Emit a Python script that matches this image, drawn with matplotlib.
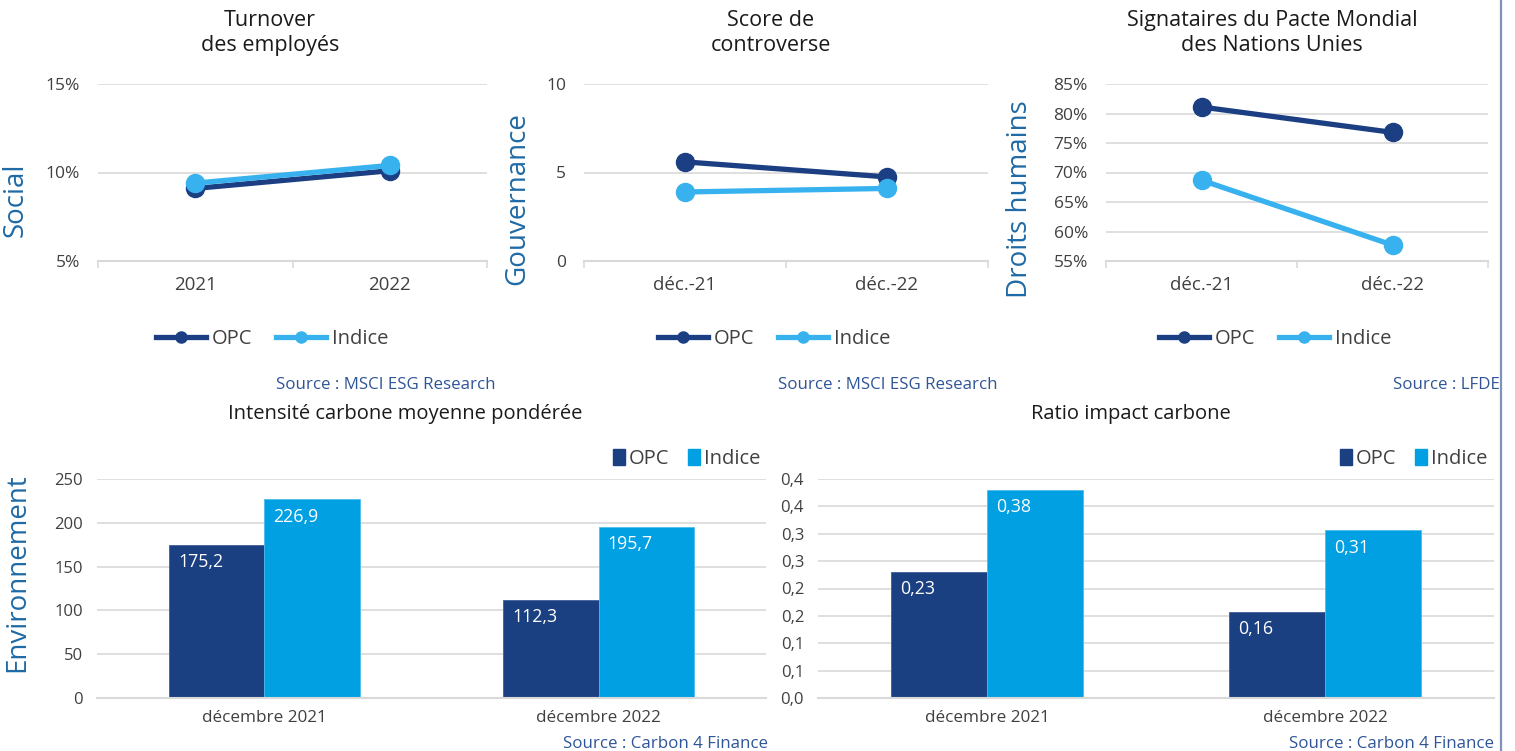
import matplotlib
matplotlib.use("Agg")
import matplotlib.pyplot as plt
from matplotlib.lines import Line2D
from matplotlib.patches import Patch
from matplotlib.ticker import FixedLocator, FuncFormatter

plt.rcParams['font.family'] = ['Open Sans', 'DejaVu Sans']

# ---------------- data ----------------
turnover_cats = ["2021", "2022"]
turnover_opc = [9.1, 10.1]
turnover_indice = [9.4, 10.4]

controverse_cats = ["déc.-21", "déc.-22"]
controverse_opc = [5.6, 4.75]
controverse_indice = [3.9, 4.1]

pacte_cats = ["déc.-21", "déc.-22"]
pacte_opc = [81.1, 76.8]
pacte_indice = [68.7, 57.7]

carbon_cats = ["décembre 2021", "décembre 2022"]
intensite_opc = [175.2, 112.3]
intensite_indice = [226.9, 195.7]
intensite_opc_labels = ["175,2", "112,3"]
intensite_indice_labels = ["226,9", "195,7"]

ratio_opc = [0.23, 0.157]
ratio_indice = [0.38, 0.306]
ratio_opc_labels = ["0,23", "0,16"]
ratio_indice_labels = ["0,38", "0,31"]

series_names = ["OPC", "Indice"]

# ---------------- style ----------------
W, H = 1515, 751
C_OPC_LINE = "#1B3F82"
C_IDX_LINE = "#38B2EE"
C_OPC_BAR = "#1B4082"
C_IDX_BAR = "#00A0E2"
C_AXLBL = "#1F6AA5"
C_SRC = "#2F5597"
C_TICK = "#404040"
C_GRID = "#D9D9D9"

fig = plt.figure(figsize=(W / 100, H / 100), dpi=100)
fig.patch.set_facecolor("white")


def fx(x):
    return x / W


def fy(y):
    return 1 - y / H


def add_ax(x0, x1, ytop, ybot):
    return fig.add_axes([fx(x0), fy(ybot), fx(x1) - fx(x0), (ybot - ytop) / H])


def style_line_ax(ax, cats, yticks, fmt, ylim):
    ax.set_xlim(-0.5, len(cats) - 0.5)
    ax.set_ylim(*ylim)
    for s in ["top", "right", "left"]:
        ax.spines[s].set_visible(False)
    ax.spines["bottom"].set_color(C_GRID)
    ax.spines["bottom"].set_linewidth(1.5)
    ax.spines["bottom"].set_zorder(0.5)
    ax.set_yticks(yticks)
    ax.yaxis.set_major_formatter(FuncFormatter(fmt))
    ax.tick_params(axis="y", length=0, pad=13, labelsize=12.5, labelcolor=C_TICK)
    ax.set_xticks(range(len(cats)))
    ax.set_xticklabels(cats)
    ax.tick_params(axis="x", which="major", length=0, pad=11, labelsize=13.5, labelcolor=C_TICK)
    ax.xaxis.set_minor_locator(FixedLocator([i - 0.5 for i in range(len(cats) + 1)]))
    ax.tick_params(axis="x", which="minor", length=5, width=1.2, color=C_GRID)
    ax.grid(axis="y", color=C_GRID, linewidth=1.2, zorder=0)
    ax.set_axisbelow(True)


def line_chart(x0, x1, cats, opc, idx, yticks, fmt, ylim):
    ax = add_ax(x0, x1, 84, 261)
    style_line_ax(ax, cats, yticks, fmt, ylim)
    xs = list(range(len(cats)))
    ax.plot(xs, opc, color=C_OPC_LINE, lw=3.8, marker="o", ms=13, zorder=3, solid_capstyle="round")
    ax.plot(xs, idx, color=C_IDX_LINE, lw=3.8, marker="o", ms=13, zorder=4, solid_capstyle="round")
    return ax


def line_legend(cx):
    handles = [Line2D([], [], color=C_OPC_LINE, lw=3.8, marker="o", ms=8),
               Line2D([], [], color=C_IDX_LINE, lw=3.8, marker="o", ms=8)]
    fig.legend(handles, series_names, loc="center", bbox_to_anchor=(fx(cx), fy(339)),
               ncol=2, frameon=False, fontsize=14.5, handlelength=2.5, handletextpad=0.25,
               columnspacing=1.2, labelcolor=C_TICK)


pct = lambda v, p: f"{v:.0f}%"
num = lambda v, p: f"{v:.0f}"

line_chart(98, 487, turnover_cats, turnover_opc, turnover_indice, [5, 10, 15], pct, (5, 15))
line_chart(584, 988, controverse_cats, controverse_opc, controverse_indice, [0, 5, 10], num, (0, 10))
line_chart(1106, 1488, pacte_cats, pacte_opc, pacte_indice, [55, 60, 65, 70, 75, 80, 85], pct, (55, 85))

line_legend(272)
line_legend(774)
line_legend(1275)

# titles top
TS = 15.5
fig.text(fx(270), fy(33), "Turnover\ndes employés", ha="center", va="center", fontsize=TS,
         color="#1a1a1a", linespacing=1.2)
fig.text(fx(771), fy(33), "Score de\ncontroverse", ha="center", va="center", fontsize=TS,
         color="#1a1a1a", linespacing=1.2)
fig.text(fx(1272), fy(33), "Signataires du Pacte Mondial\ndes Nations Unies", ha="center", va="center",
         fontsize=TS, color="#1a1a1a", linespacing=1.2)

# side labels
AS = 20
fig.text(fx(16), fy(200), "Social", rotation=90, ha="center", va="center", fontsize=AS, color=C_AXLBL)
fig.text(fx(517), fy(199), "Gouvernance", rotation=90, ha="center", va="center", fontsize=AS, color=C_AXLBL)
fig.text(fx(1020), fy(199), "Droits humains", rotation=90, ha="center", va="center", fontsize=AS, color=C_AXLBL)
fig.text(fx(17), fy(573), "Environnement", rotation=90, ha="center", va="center", fontsize=AS, color=C_AXLBL)

# sources
SS = 12.2
fig.text(fx(495), fy(385), "Source : MSCI ESG Research", ha="right", va="center", fontsize=SS, color=C_SRC)
fig.text(fx(997), fy(385), "Source : MSCI ESG Research", ha="right", va="center", fontsize=SS, color=C_SRC)
fig.text(fx(1500), fy(385), "Source : LFDE", ha="right", va="center", fontsize=SS, color=C_SRC)
fig.text(fx(768), fy(744), "Source : Carbon 4 Finance", ha="right", va="center", fontsize=SS, color=C_SRC)
fig.text(fx(1494), fy(744), "Source : Carbon 4 Finance", ha="right", va="center", fontsize=SS, color=C_SRC)


# ---------------- bar charts ----------------
def bar_chart(x0, x1, opc, idx, opc_lbl, idx_lbl, yticks, ylim, ytlabels, title, title_cx, leg_right):
    ax = add_ax(x0, x1, 479, 698)
    ax.set_xlim(-0.5, len(carbon_cats) - 0.5)
    ax.set_ylim(*ylim)
    for s in ["top", "right", "left"]:
        ax.spines[s].set_visible(False)
    ax.spines["bottom"].set_color(C_GRID)
    ax.spines["bottom"].set_linewidth(1.5)
    ax.set_yticks(yticks)
    ax.set_yticklabels(ytlabels)
    ax.tick_params(axis="y", length=0, pad=10, labelsize=12, labelcolor=C_TICK)
    ax.set_xticks(range(len(carbon_cats)))
    ax.set_xticklabels(carbon_cats)
    ax.tick_params(axis="x", length=0, pad=9, labelsize=12.3, labelcolor=C_TICK)
    ax.grid(axis="y", color=C_GRID, linewidth=1.2)
    ax.set_axisbelow(True)
    bw = 0.285
    xs = list(range(len(carbon_cats)))
    b1 = ax.bar([x - bw / 2 for x in xs], opc, width=bw, color=C_OPC_BAR, edgecolor="#3F5E9A", linewidth=0.6, zorder=2)
    b2 = ax.bar([x + bw / 2 for x in xs], idx, width=bw, color=C_IDX_BAR, edgecolor="#4DBBEB", linewidth=0.6, zorder=2)
    for bars, labels in ((b1, opc_lbl), (b2, idx_lbl)):
        for r, lab in zip(bars, labels):
            ax.annotate(lab, (r.get_x(), r.get_height()), xytext=(6.5, -12.5), textcoords="offset points",
                        ha="left", va="center", color="white", fontsize=12.8, zorder=3)
    fig.text(fx(title_cx), fy(414), title, ha="center", va="center", fontsize=14.5, color="#1a1a1a")
    handles = [Patch(color=C_OPC_BAR), Patch(color=C_IDX_BAR)]
    fig.legend(handles, series_names, loc="center right", bbox_to_anchor=(fx(leg_right), fy(459)),
               ncol=2, frameon=False, fontsize=14.5, handlelength=0.6, handleheight=0.8,
               handletextpad=0.2, columnspacing=0.9, labelcolor=C_TICK, borderaxespad=0, borderpad=0)
    return ax


bar_chart(97, 766, intensite_opc, intensite_indice, intensite_opc_labels, intensite_indice_labels,
          [0, 50, 100, 150, 200, 250], (0, 250), ["0", "50", "100", "150", "200", "250"],
          "Intensité carbone moyenne pondérée", 405, 760)

ratio_ticks = [0.0, 0.05, 0.1, 0.15, 0.2, 0.25, 0.3, 0.35, 0.4]
ratio_tick_labels = ["0,0", "0,1", "0,1", "0,2", "0,2", "0,3", "0,3", "0,4", "0,4"]
bar_chart(818, 1494, ratio_opc, ratio_indice, ratio_opc_labels, ratio_indice_labels,
          ratio_ticks, (0, 0.4), ratio_tick_labels, "Ratio impact carbone", 1131, 1487)

# right border line
fig.add_artist(Line2D([fx(1501), fx(1501)], [0, 1], color="#7D93BC", lw=1.6, transform=fig.transFigure))

fig.savefig("out.png", dpi=100, facecolor="white")
